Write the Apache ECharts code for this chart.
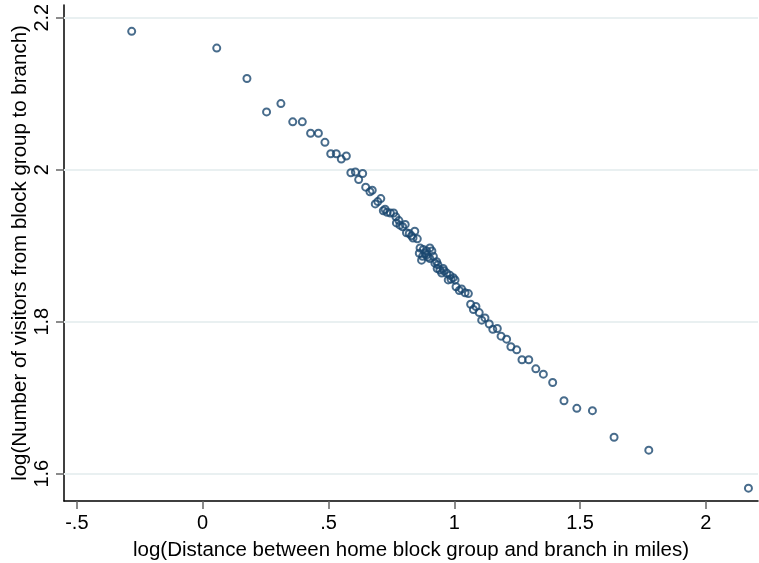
<!DOCTYPE html>
<html>
<head>
<meta charset="utf-8">
<script src="https://cdn.jsdelivr.net/npm/echarts@6/dist/echarts.min.js"></script>
<style>html,body{margin:0;padding:0;background:#fff;}#c{width:759px;height:563px;}</style>
</head>
<body>
<div id="c"></div>
<script>
// log distance (x) values
var logDistance = [
-0.282, 0.056, 0.176, 0.254, 0.311, 0.358, 0.396, 0.429, 0.460, 0.486,
0.509, 0.531, 0.551, 0.571, 0.589, 0.607, 0.620, 0.636, 0.648, 0.665,
0.674, 0.686, 0.696, 0.708, 0.718, 0.725, 0.733, 0.746, 0.759, 0.768,
0.770, 0.780, 0.784, 0.795, 0.805, 0.810, 0.821, 0.830, 0.836, 0.843,
0.853, 0.861, 0.864, 0.870, 0.874, 0.877, 0.884, 0.890, 0.890, 0.896,
0.903, 0.903, 0.911, 0.917, 0.923, 0.930, 0.932, 0.935, 0.943, 0.950,
0.956, 0.959, 0.970, 0.976, 0.983, 0.987, 0.996, 1.003, 1.007, 1.020,
1.029, 1.043, 1.056, 1.065, 1.076, 1.086, 1.099, 1.109, 1.122, 1.139,
1.153, 1.171, 1.186, 1.208, 1.225, 1.248, 1.269, 1.296, 1.324, 1.354,
1.391, 1.436, 1.487, 1.549, 1.635, 1.773, 2.169
];
// log visitors (y) values
var logVisitors = [
2.182, 2.160, 2.120, 2.076, 2.087, 2.063, 2.063, 2.048, 2.048, 2.036,
2.021, 2.021, 2.014, 2.018, 1.996, 1.997, 1.987, 1.995, 1.977, 1.971,
1.973, 1.955, 1.958, 1.962, 1.946, 1.948, 1.944, 1.943, 1.943, 1.938,
1.930, 1.933, 1.927, 1.925, 1.928, 1.917, 1.916, 1.913, 1.910, 1.919,
1.909, 1.890, 1.897, 1.881, 1.886, 1.895, 1.890, 1.893, 1.888, 1.885,
1.897, 1.883, 1.893, 1.886, 1.877, 1.879, 1.870, 1.875, 1.868, 1.864,
1.870, 1.867, 1.864, 1.855, 1.861, 1.856, 1.858, 1.855, 1.846, 1.841,
1.843, 1.838, 1.837, 1.823, 1.816, 1.820, 1.812, 1.802, 1.805, 1.797,
1.790, 1.791, 1.781, 1.777, 1.767, 1.763, 1.750, 1.750, 1.738, 1.731,
1.720, 1.696, 1.686, 1.683, 1.648, 1.631, 1.581
];
var xTicks = [-0.5, 0, 0.5, 1, 1.5, 2];
var yTicks = [1.6, 1.8, 2, 2.2];
var xTitle = 'log(Distance between home block group and branch in miles)';
var yTitle = 'log(Number of visitors from block group to branch)';

function stataFmt(v) {
  var s = String(Math.round(v * 1000) / 1000);
  return s.replace(/^(-?)0\./, '$1.');
}
var points = logDistance.map(function (x, i) { return [x, logVisitors[i]]; });
var FONT = 'Liberation Sans, Arial, sans-serif';

var chart = echarts.init(document.getElementById('c'), null, {renderer: 'canvas'});
chart.setOption({
  animation: false,
  backgroundColor: '#ffffff',
  grid: {left: 64, right: 1, top: 5, bottom: 62, containLabel: false, outerBoundsMode: 'none'},
  xAxis: {
    type: 'value', min: -0.551, max: 2.207,
    name: xTitle, nameLocation: 'middle', nameGap: 39,
    nameTextStyle: {fontFamily: FONT, fontSize: 20.5, color: '#000'},
    axisLine: {show: true, onZero: false, lineStyle: {color: '#000', width: 1.5}},
    axisTick: {show: true, customValues: xTicks, length: 8, lineStyle: {color: '#666', width: 1.5}},
    axisLabel: {customValues: xTicks, formatter: stataFmt, margin: 12, fontFamily: FONT, fontSize: 20, color: '#000'},
    splitLine: {show: false}
  },
  yAxis: {
    type: 'value', min: 1.5641, max: 2.2167,
    name: yTitle, nameLocation: 'middle', nameGap: 33, nameRotate: 90, nameMoveOverlap: false,
    nameTextStyle: {fontFamily: FONT, fontSize: 20.5, color: '#000'},
    axisLine: {show: true, onZero: false, lineStyle: {color: '#000', width: 1.5}},
    axisTick: {show: true, customValues: yTicks, length: 8, lineStyle: {color: '#666', width: 1.5}},
    axisLabel: {customValues: yTicks, formatter: stataFmt, rotate: 90, margin: 12, fontFamily: FONT, fontSize: 20, color: '#000'},
    splitLine: {show: false}
  },
  series: [{
    type: 'scatter',
    data: points,
    symbol: 'circle',
    symbolSize: 7,
    itemStyle: {color: 'rgba(255,255,255,0)', borderColor: '#1a476f', borderWidth: 2},
    z: 3,
    markLine: {
      silent: true, symbol: ['none', 'none'], label: {show: false},
      lineStyle: {color: '#e9f0f1', width: 2, type: 'solid'},
      data: yTicks.map(function (v) { return {yAxis: v}; }),
      z: 1
    }
  }]
});
</script>
</body>
</html>
